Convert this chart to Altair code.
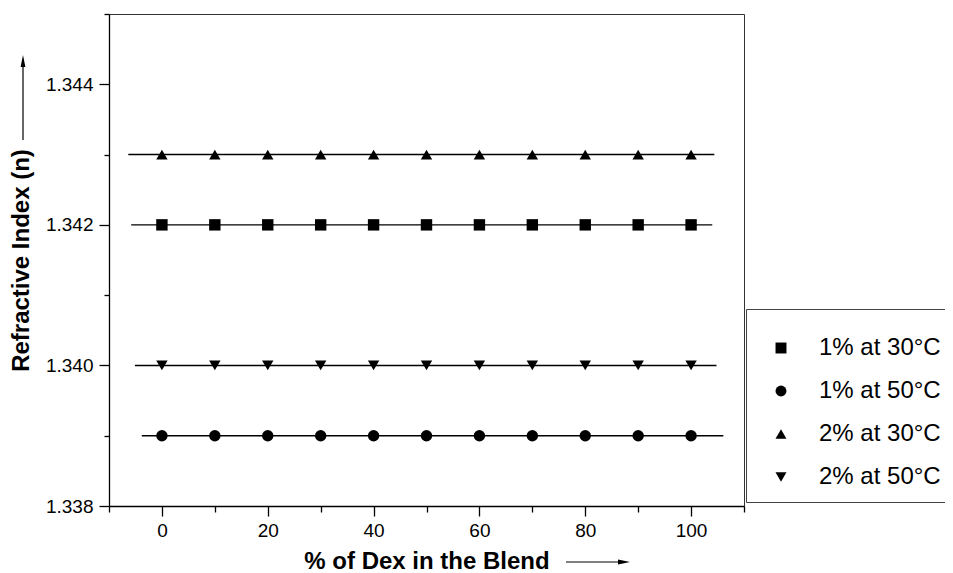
import altair as alt
import pandas as pd

# ---- data ----
pct = [0, 10, 20, 30, 40, 50, 60, 70, 80, 90, 100]
series = ["1% at 30°C", "1% at 50°C", "2% at 30°C", "2% at 50°C"]
n_1pct_30 = [1.342, 1.342, 1.342, 1.342, 1.342, 1.342, 1.342, 1.342, 1.342, 1.342, 1.342]
n_1pct_50 = [1.339, 1.339, 1.339, 1.339, 1.339, 1.339, 1.339, 1.339, 1.339, 1.339, 1.339]
n_2pct_30 = [1.343, 1.343, 1.343, 1.343, 1.343, 1.343, 1.343, 1.343, 1.343, 1.343, 1.343]
n_2pct_50 = [1.340, 1.340, 1.340, 1.340, 1.340, 1.340, 1.340, 1.340, 1.340, 1.340, 1.340]
# fitted straight lines (start x, end x, level)
fit_start = [-5.8, -3.8, -6.35, -5.1]
fit_end = [104.0, 106.1, 104.4, 104.8]
fit_level = [1.342, 1.339, 1.343, 1.340]
shapes = ["square", "circle", "triangle-up", "triangle-down"]
x_ticks = [-10, 0, 10, 20, 30, 40, 50, 60, 70, 80, 90, 100, 110]
y_ticks = [1.338, 1.339, 1.340, 1.341, 1.342, 1.343, 1.344, 1.345]

rows = []
for s, vals in zip(series, [n_1pct_30, n_1pct_50, n_2pct_30, n_2pct_50]):
    for p, v in zip(pct, vals):
        rows.append({"pct": p, "n": v, "series": s})
pts = pd.DataFrame(rows)
fits = pd.DataFrame({"series": series, "x0": fit_start, "x1": fit_end, "n": fit_level})

FONT = "Liberation Sans"
xscale = alt.Scale(domain=[-10, 110], nice=False, zero=False)
yscale = alt.Scale(domain=[1.338, 1.345], nice=False, zero=False)

xaxis = alt.Axis(
    values=x_ticks,
    title="% of Dex in the Blend",
    labelExpr="(datum.value % 20 == 0 && datum.value >= 0 && datum.value <= 100) ? datum.label : ''",
    tickSize={"condition": {"test": "datum.value % 20 == 0", "value": 10}, "value": 6},
    labelPadding=5,
    titlePadding=9,
    grid=False,
)
yaxis = alt.Axis(
    values=y_ticks,
    title="Refractive Index (n)",
    labelExpr="round(datum.value * 1000) % 2 == 0 ? format(datum.value, '.3f') : ''",
    tickSize={"condition": {"test": "round(datum.value * 1000) % 2 == 0", "value": 10}, "value": 5},
    labelPadding=6,
    titlePadding=12,
    grid=False,
)

lines = alt.Chart(fits).mark_rule(color="black", strokeWidth=1.4).encode(
    x=alt.X("x0:Q", scale=xscale, axis=xaxis),
    x2="x1:Q",
    y=alt.Y("n:Q", scale=yscale, axis=yaxis),
)

points = alt.Chart(pts).mark_point(filled=True, color="black", opacity=1, size=130).encode(
    x=alt.X("pct:Q", scale=xscale),
    y=alt.Y("n:Q", scale=yscale),
    shape=alt.Shape(
        "series:N",
        scale=alt.Scale(domain=series, range=shapes),
        legend=alt.Legend(
            orient="none",
            legendX=637,
            legendY=295,
            title=" ",
            titleFontSize=2,
            titlePadding=12,
            padding=13,
            rowPadding=19,
            symbolOffset=10,
            symbolSize=120,
            symbolFillColor="black",
            symbolStrokeColor="black",
            labelOffset=26,
            labelFontSize=24,
            labelFont=FONT,
            labelColor="black",
            labelLimit=400,
            strokeColor="#444",
        ),
    ),
)

one = pd.DataFrame({"k": [0]})
# decorative arrows next to the axis titles (pixel positions in plot coordinates)
y_arrow = alt.Chart(one).mark_rule(color="black", strokeWidth=1.2).encode(
    x=alt.value(-86), y=alt.value(126), y2=alt.value(47)
)
y_head = alt.Chart(one).mark_point(filled=True, color="black", opacity=1).encode(
    x=alt.value(-86), y=alt.value(47), shape=alt.value("M0,-1L0.4,1L-0.4,1Z"), size=alt.value(144)
)
x_arrow = alt.Chart(one).mark_rule(color="black", strokeWidth=1.2).encode(
    x=alt.value(457), x2=alt.value(515), y=alt.value(548)
)
x_head = alt.Chart(one).mark_point(filled=True, color="black", opacity=1).encode(
    x=alt.value(515), y=alt.value(548), shape=alt.value("M1,0L-1,-0.4L-1,0.4Z"), size=alt.value(144)
)

chart = (
    alt.layer(lines, points, y_arrow, y_head, x_arrow, x_head)
    .properties(
        width=635,
        height=492,
        autosize=alt.AutoSizeParams(type="none"),
        padding={"left": 101, "top": 6, "right": 201, "bottom": 66},
    )
    .configure_view(stroke="#333", strokeWidth=1)
    .configure_axis(
        domainColor="black",
        domainWidth=1.3,
        tickColor="black",
        tickWidth=1.3,
        labelFont=FONT,
        labelFontSize=19,
        labelColor="black",
        titleFont=FONT,
        titleFontSize=24,
        titleFontWeight="bold",
        titleColor="black",
    )
)

chart.save("out.html", embed_options={"renderer": "svg", "actions": False})
